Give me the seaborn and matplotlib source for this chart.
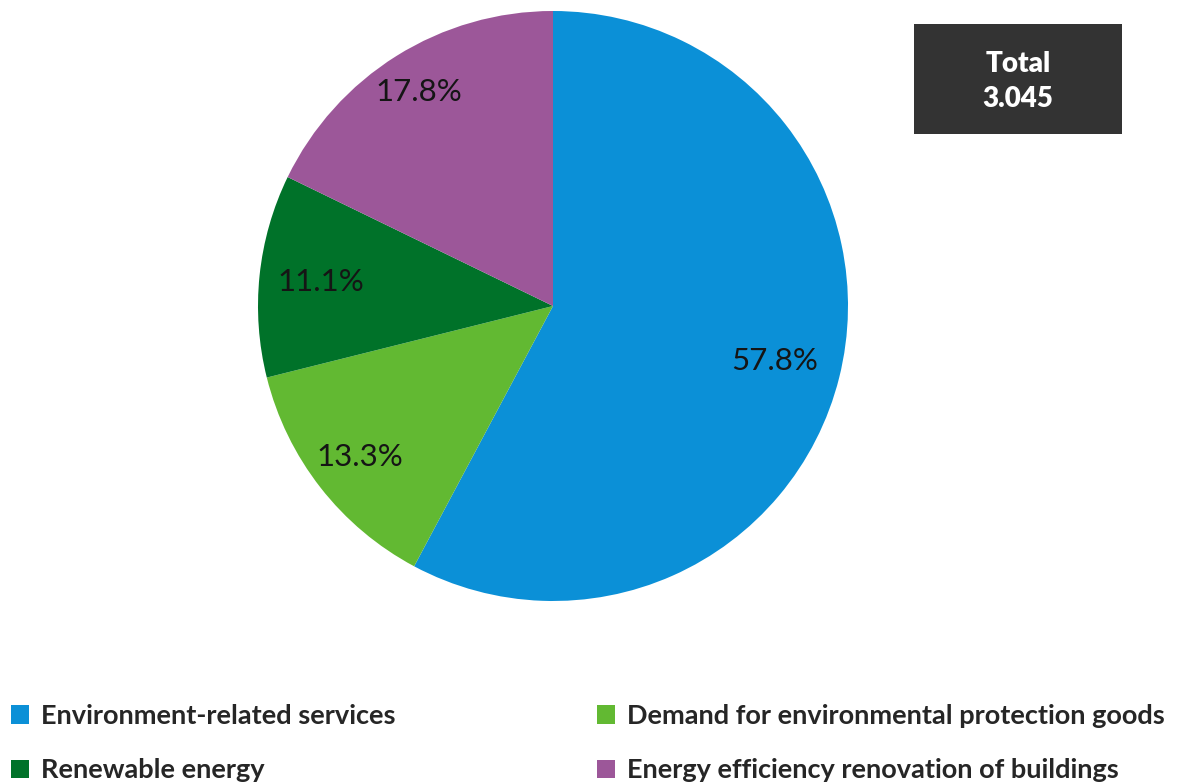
import matplotlib
matplotlib.use("Agg")
import matplotlib.pyplot as plt
from matplotlib.patches import Patch
import numpy as np
import seaborn as sns

# Shares of the total (percent), drawn clockwise from 12 o'clock
categories = [
    "Environment-related services",
    "Demand for environmental protection goods",
    "Renewable energy",
    "Energy efficiency renovation of buildings",
]
shares = [57.8, 13.3, 11.1, 17.8]
slice_colors = ["#0B90D7", "#62B932", "#007229", "#9C5799"]
# radial position of each percentage label (fraction of radius)
label_radius = [0.775, 0.83, 0.79, 0.855]
total_label = "Total\n3.045"

sns.set_theme(style="white")
plt.rcParams["font.family"] = ["Lato", "DejaVu Sans"]
palette = sns.color_palette(slice_colors)

fig = plt.figure(figsize=(11.91, 7.82), dpi=100)
ax = fig.add_axes([258 / 1191, 1 - 601 / 782, 590 / 1191, 590 / 782])
wedges, _ = ax.pie(shares, colors=palette, startangle=90, counterclock=False,
                   radius=1.0, wedgeprops=dict(linewidth=0))
ax.set_xlim(-1, 1)
ax.set_ylim(-1, 1)
ax.axis("off")

for w, val, r in zip(wedges, shares, label_radius):
    ang = np.deg2rad((w.theta1 + w.theta2) / 2)
    ax.text(r * np.cos(ang), r * np.sin(ang), f"{val:.1f}%",
            ha="center", va="center", fontsize=22.5, color="#151515")

# total box in the upper right
box_ax = fig.add_axes([914 / 1191, 1 - 134 / 782, 208 / 1191, 110 / 782])
box_ax.set_facecolor("#333333")
box_ax.set_xticks([])
box_ax.set_yticks([])
for s in box_ax.spines.values():
    s.set_visible(False)
box_ax.text(0.5, 0.475, total_label, ha="center", va="center",
            transform=box_ax.transAxes, fontsize=20, fontweight="heavy",
            color="white", linespacing=1.45)

handles = [Patch(facecolor=c, edgecolor="none") for c in palette]
left_idx = [0, 2]
right_idx = [1, 3]
common = dict(frameon=False, handlelength=0.65, handleheight=0.65,
              handletextpad=0.45, labelspacing=1.12, borderpad=0,
              borderaxespad=0, prop=dict(size=19.5, weight="bold"))
leg1 = fig.legend([handles[i] for i in left_idx], [categories[i] for i in left_idx],
                  loc="upper left", bbox_to_anchor=(11 / 1191, 1 - 704 / 782), **common)
leg2 = fig.legend([handles[i] for i in right_idx], [categories[i] for i in right_idx],
                  loc="upper left", bbox_to_anchor=(597 / 1191, 1 - 704 / 782), **common)

fig.savefig("out.png", dpi=100)
